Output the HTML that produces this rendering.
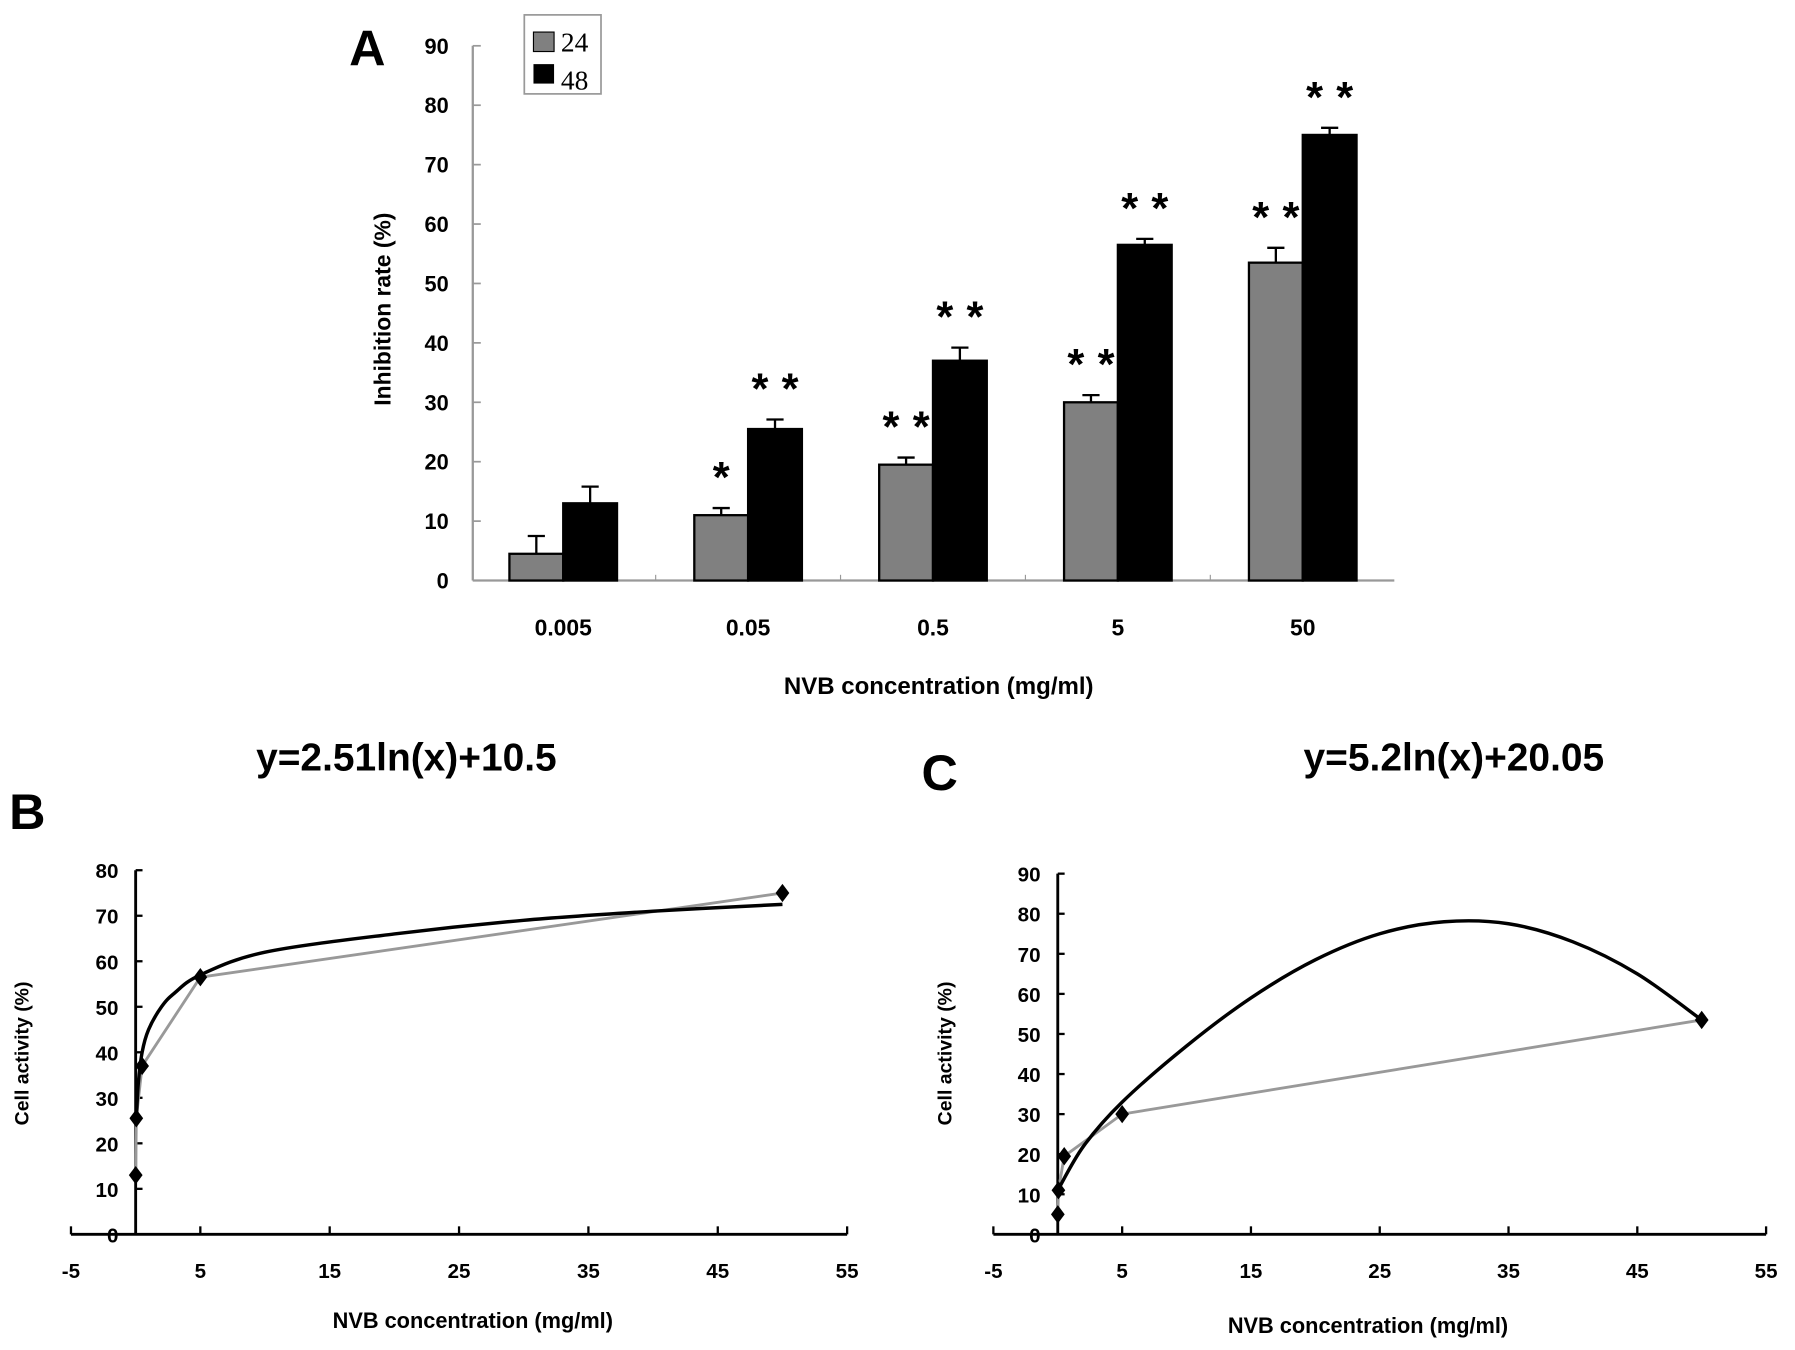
<!DOCTYPE html>
<html><head><meta charset="utf-8"><style>
html,body{margin:0;padding:0;background:#fff;}
svg{display:block;}
text{font-family:"Liberation Sans",sans-serif;font-weight:bold;fill:#000;}
</style></head><body>
<svg id="fig" width="1795" height="1350" viewBox="0 0 1568 1179" preserveAspectRatio="none" xmlns="http://www.w3.org/2000/svg">
<g id="A"></g>
<g id="B"></g>
<g id="C"></g>
</svg>
<script>
// Panel A data
const catsA = ["0.005","0.05","0.5","5","50"];
const v24 = [4.5,11,19.5,30,53.5];
const e24 = [3,1.2,1.2,1.2,2.5];
const v48 = [13,25.5,37,56.5,75];
const e48 = [2.8,1.6,2.2,1,1.2];
const star24 = ["","*","* *","* *","* *"];
const star48 = ["","* *","* *","* *","* *"];
const ticksA = [0,10,20,30,40,50,60,70,80,90];
// Panel B data
const xB = [0.005,0.05,0.5,5,50];
const yB = [13,25.5,37,56.5,75];
const fitBx = [0.05,0.2,0.5,1,2,3,5,10,20,30,40,50];
const fitBy = [25,33,40,45,50,53,57,62,66,69,71,72.5];
const ticksBy = [0,10,20,30,40,50,60,70,80];
// Panel C data
const xC = [0.005,0.05,0.5,5,50];
const yC = [5,11,19.5,30,53.5];
const fitCx = [0,2,5,10,15,20,25,30,35,40,45,50];
const fitCy = [11,22,33,47,59,68.5,75,78,77.5,73,65,53.5];
const ticksCy = [0,10,20,30,40,50,60,70,80,90];
const ticksX = [-5,5,15,25,35,45,55];

const NS="http://www.w3.org/2000/svg";
function mk(parent,tag,attrs,txt){const e=document.createElementNS(NS,tag);for(const k in attrs)e.setAttribute(k,attrs[k]);if(txt!==undefined)e.textContent=txt;parent.appendChild(e);return e;}
function smooth(pts){
  let d='M'+pts[0][0]+','+pts[0][1];
  for(let i=0;i<pts.length-1;i++){
    const p0=pts[Math.max(0,i-1)],p1=pts[i],p2=pts[i+1],p3=pts[Math.min(pts.length-1,i+2)];
    const c1=[p1[0]+(p2[0]-p0[0])/6,p1[1]+(p2[1]-p0[1])/6];
    const c2=[p2[0]-(p3[0]-p1[0])/6,p2[1]-(p3[1]-p1[1])/6];
    d+=`C${c1[0]},${c1[1]} ${c2[0]},${c2[1]} ${p2[0]},${p2[1]}`;
  }
  return d;
}

// ---- Panel A
const gA=document.getElementById('A');
const yA=v=>507-v*(467/90);
const cxA=i=>492+i*161.5;
let el;
el=mk(gA,'line',{x1:413,y1:40,x2:413,y2:507,stroke:'#999','stroke-width':2});

el=mk(gA,'line',{x1:413,y1:507,x2:1218,y2:507,stroke:'#999','stroke-width':2});

ticksA.forEach(t=>{
  mk(gA,'line',{x1:413,y1:yA(t),x2:420,y2:yA(t),stroke:'#999','stroke-width':1.5});
  el=mk(gA,'text',{x:392,y:yA(t)+7,'text-anchor':'end','font-size':19},t);
  
});
catsA.forEach((c,i)=>{
  const cx=cxA(i);
  if(i>0) mk(gA,'line',{x1:cx-80.75,y1:502,x2:cx-80.75,y2:507,stroke:'#999','stroke-width':1});
  el=mk(gA,'text',{x:cx,y:555,'text-anchor':'middle','font-size':20},c);
  
  el=mk(gA,'rect',{x:cx-47,y:yA(v24[i]),width:47,height:507-yA(v24[i]),fill:'#808080',stroke:'#000','stroke-width':2});
  
  mk(gA,'line',{x1:cx-23.5,y1:yA(v24[i]),x2:cx-23.5,y2:yA(v24[i]+e24[i]),stroke:'#000','stroke-width':2});
  mk(gA,'line',{x1:cx-31,y1:yA(v24[i]+e24[i]),x2:cx-16,y2:yA(v24[i]+e24[i]),stroke:'#000','stroke-width':2});
  el=mk(gA,'rect',{x:cx,y:yA(v48[i]),width:47,height:507-yA(v48[i]),fill:'#000',stroke:'#000','stroke-width':2});
  
  mk(gA,'line',{x1:cx+23.5,y1:yA(v48[i]),x2:cx+23.5,y2:yA(v48[i]+e48[i]),stroke:'#000','stroke-width':2});
  mk(gA,'line',{x1:cx+16,y1:yA(v48[i]+e48[i]),x2:cx+31,y2:yA(v48[i]+e48[i]),stroke:'#000','stroke-width':2});
  if(star24[i]){el=mk(gA,'text',{x:cx-23.5,y:yA(v24[i]+e24[i])-14,'text-anchor':'middle','font-size':38,'word-spacing':1},star24[i]);
    }
  if(star48[i]){el=mk(gA,'text',{x:cx+23.5,y:yA(v48[i]+e48[i])-14,'text-anchor':'middle','font-size':38,'word-spacing':1},star48[i]);
    }
});
el=mk(gA,'text',{x:0,y:0,'text-anchor':'middle','font-size':20,transform:'translate(341,270) rotate(-90)'},'Inhibition rate (%)');

el=mk(gA,'text',{x:820,y:606,'text-anchor':'middle','font-size':21},'NVB concentration (mg/ml)');

el=mk(gA,'text',{x:305,y:57,'font-size':44},'A');

const lg=mk(gA,'g',{});

mk(lg,'rect',{x:458,y:13,width:67,height:69,fill:'#fff',stroke:'#999','stroke-width':1.5});
mk(lg,'rect',{x:466,y:28,width:18,height:17,fill:'#808080',stroke:'#000','stroke-width':1});
mk(lg,'rect',{x:466,y:56,width:18,height:17,fill:'#000'});
el=mk(lg,'text',{x:490,y:45,'font-size':24,style:'font-family:"Liberation Serif",serif;font-weight:normal'},'24');

el=mk(lg,'text',{x:490,y:78,'font-size':24,style:'font-family:"Liberation Serif",serif;font-weight:normal'},'48');


function scatter(g,o){
  const X=v=>o.x0+v*o.px10/10, Y=v=>1078-v*o.py10/10;
  el=mk(g,'line',{x1:X(-5),y1:1078,x2:X(55),y2:1078,stroke:'#000','stroke-width':2.5});
  
  el=mk(g,'line',{x1:X(0),y1:1078,x2:X(0),y2:Y(o.ty[o.ty.length-1]),stroke:'#000','stroke-width':2.5});
  
  ticksX.forEach(t=>{
    mk(g,'line',{x1:X(t),y1:1071,x2:X(t),y2:1078,stroke:'#000','stroke-width':2});
    el=mk(g,'text',{x:X(t),y:1116,'text-anchor':'middle','font-size':18},t);
    
  });
  o.ty.forEach(t=>{
    mk(g,'line',{x1:X(0),y1:Y(t),x2:X(0)+6,y2:Y(t),stroke:'#000','stroke-width':2});
    el=mk(g,'text',{x:X(0)-15,y:Y(t)+7,'text-anchor':'end','font-size':18},t);
    
  });
  let d='';o.xs.forEach((v,i)=>{d+=(i?'L':'M')+X(v)+','+Y(o.ys[i]);});
  el=mk(g,'path',{d:d,fill:'none',stroke:'#999','stroke-width':2.5,'stroke-linejoin':'round'});
  
  el=mk(g,'path',{d:smooth(o.fx.map((v,i)=>[X(v),Y(o.fy[i])])),fill:'none',stroke:'#000','stroke-width':3,'stroke-linejoin':'round'});
  
  o.xs.forEach((v,i)=>{
    const cx=X(v),cy=Y(o.ys[i]);
    el=mk(g,'polygon',{points:`${cx},${cy-8} ${cx+6},${cy} ${cx},${cy+8} ${cx-6},${cy}`,fill:'#000'});
    
  });
  el=mk(g,'text',{x:0,y:0,'text-anchor':'middle','font-size':17,transform:`translate(${o.yt},920) rotate(-90)`},'Cell activity (%)');
  
  el=mk(g,'text',{x:o.xt,y:o.xty,'text-anchor':'middle','font-size':19},'NVB concentration (mg/ml)');
  
  el=mk(g,'text',{x:o.tx,y:673,'text-anchor':'middle','font-size':34},o.title);
  
  el=mk(g,'text',{x:o.lx,y:o.ly,'font-size':44},o.label);
  
}
scatter(document.getElementById('B'),{x0:118.5,px10:113,py10:39.75,ty:ticksBy,xs:xB,ys:yB,fx:fitBx,fy:fitBy,yt:25,xt:413,xty:1160,tx:355,title:'y=2.51ln(x)+10.5',label:'B',lx:8,ly:724});
scatter(document.getElementById('C'),{x0:924,px10:112.5,py10:35,ty:ticksCy,xs:xC,ys:yC,fx:fitCx,fy:fitCy,yt:831,xt:1195,xty:1164,tx:1270,title:'y=5.2ln(x)+20.05',label:'C',lx:805,ly:690});
</script>
</body></html>
